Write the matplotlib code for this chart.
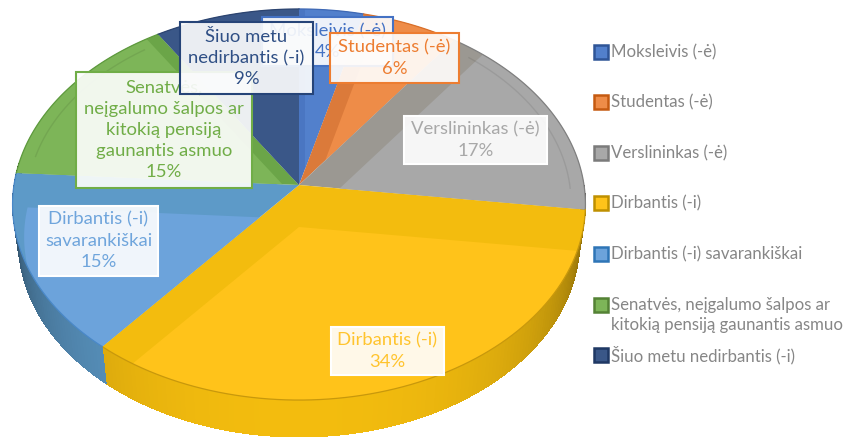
import numpy as np
import matplotlib
matplotlib.use('Agg')
import matplotlib.pyplot as plt
from matplotlib.patches import Polygon, Rectangle
import matplotlib.patheffects as pe

plt.rcParams['font.family'] = ['Lato', 'DejaVu Sans']

categories = ['Moksleivis (-ė)', 'Studentas (-ė)', 'Verslininkas (-ė)', 'Dirbantis (-i)',
              'Dirbantis (-i) savarankiškai',
              'Senatvės, neįgalumo šalpos ar kitokią pensiją gaunantis asmuo',
              'Šiuo metu nedirbantis (-i)']
values = [4, 6, 17, 34, 15, 15, 9]

legend_labels = ['Moksleivis (-ė)', 'Studentas (-ė)', 'Verslininkas (-ė)', 'Dirbantis (-i)',
                 'Dirbantis (-i) savarankiškai',
                 'Senatvės, neįgalumo šalpos ar\nkitokią pensiją gaunantis asmuo',
                 'Šiuo metu nedirbantis (-i)']
box_labels = ['Moksleivis (-ė)\n4%', 'Studentas (-ė)\n6%', 'Verslininkas (-ė)\n17%', 'Dirbantis (-i)\n34%',
              'Dirbantis (-i)\nsavarankiškai\n15%',
              'Senatvės,\nneįgalumo šalpos ar\nkitokią pensiją\ngaunantis asmuo\n15%',
              'Šiuo metu\nnedirbantis (-i)\n9%']

face_colors = ['#5280CC', '#EE8C48', '#A8A8A8', '#FFC31A', '#6CA3DB', '#7DB558', '#3A5788']
band_colors = ['#4A76C2', '#DB7A3A', '#9B9892', '#F3BC0E', '#5D9AC8', '#6BA548', '#3A5788']
rim_colors = ['#3F69B5', '#D9702A', '#808080', '#C8980C', '#4A88C8', '#5E9A3E', '#2C4470']
text_colors = ['#4472C4', '#ED7D31', '#A8A8A8', '#FFC42E', '#6FA5DC', '#70AD47', '#2F4F85']
border_colors = ['#4472C4', '#ED7D31', None, None, None, '#70AD47', '#264478']
legend_dark = ['#2F5597', '#C55A11', '#7B7B7B', '#BF9000', '#2E75B6', '#548235', '#1F3864']

# pixel boxes of the data labels: left, top, right, bottom
boxes = [(262, 17, 393, 66), (330, 33, 459, 83), (404, 116, 547, 164), (331, 327, 444, 375),
         (39, 206, 158, 276), (76, 72, 252, 188), (180, 22, 313, 94)]
# shift and arc radius of the lighter inner face of each slice
bevel = [(6, -16), (26, -24), (40, 4), (0, 42), (0, 34), (-16, 0), (0, 0)]
inner_r = [1.25, 1.25, 1.25, 1.25, 0.96, 1.25, 1.25]
legend_y = [52, 102, 153, 203, 254, 305, 355]

CX, CY, A, B, K = 299, 185, 285, 193.6, 0.0998
DEPTH = 37


def project(theta, r=1.0):
    u = r * np.sin(theta)
    v = r * np.cos(theta)
    w = 1 + K * v
    return CX + A * u / w, CY - B * v / w


def lower(x, y):
    return CX + (x - CX) * 0.98, y + DEPTH


def shade(theta):
    # side wall is darker toward both ends, lightest near the front
    t = (theta - np.pi) / (np.pi / 2)
    return np.clip(1 - 0.55 * np.abs(t) ** 2.2, 0.4, 1.0)


fig = plt.figure(figsize=(8.47, 4.37), dpi=100)
ax = fig.add_axes([0, 0, 1, 1])
ax.set_xlim(0, 847)
ax.set_ylim(437, 0)
ax.axis('off')

edges = np.cumsum([0] + values) / sum(values) * 2 * np.pi

# side wall
for i in range(len(values)):
    start, end = edges[i], edges[i + 1]
    lo, hi = max(start, np.pi / 2), min(end, 3 * np.pi / 2 + 0.12)
    if hi <= lo:
        continue
    ts = np.linspace(lo, hi, int((hi - lo) * 60) + 2)
    base = np.array(matplotlib.colors.to_rgb(band_colors[i]))
    for t0, t1 in zip(ts[:-1], ts[1:]):
        x0, y0 = project(t0)
        x1, y1 = project(t1)
        lx0, ly0 = lower(x0, y0)
        lx1, ly1 = lower(x1, y1)
        ax.add_patch(Polygon([(x0, y0), (x1, y1), (lx1, ly1), (lx0, ly0)],
                             facecolor=base * shade((t0 + t1) / 2), edgecolor='none', zorder=1, antialiased=False))

# top faces
for i in range(len(values)):
    ts = np.linspace(edges[i], edges[i + 1], 80)
    xs, ys = project(ts)
    pts = np.vstack([[CX, CY], np.column_stack([xs, ys])])
    outer = Polygon(pts, closed=True, facecolor=band_colors[i], edgecolor='none', zorder=2)
    ax.add_patch(outer)
    dx, dy = bevel[i]
    xs2, ys2 = project(ts, inner_r[i])
    pts2 = np.vstack([[CX + dx, CY + dy], np.column_stack([xs2 + dx, ys2 + dy])])
    inner = Polygon(pts2, closed=True, facecolor=face_colors[i], edgecolor='none', zorder=3)
    ax.add_patch(inner)
    inner.set_clip_path(outer)
    ax.plot(xs, ys, color=rim_colors[i], linewidth=0.9, zorder=4)
    # faint inner arcs on the grey and green slices
    if i in (2, 5):
        xa, ya = project(ts[8:72], 0.95)
        ax.plot(xa, ya, color='#000000', alpha=0.08, linewidth=1.0, zorder=4)

# data labels
for i in range(len(boxes)):
    left, top, right, bottom = boxes[i]
    edge = border_colors[i] if border_colors[i] else '#FFFFFF'
    rect = Rectangle((left, top), right - left, bottom - top, facecolor='white', alpha=0.9, edgecolor='none', zorder=10 + i)
    rect.set_path_effects([pe.SimplePatchShadow(offset=(1, -1), alpha=0.2, shadow_rgbFace=text_colors[i]), pe.Normal()])
    ax.add_patch(rect)
    ax.add_patch(Rectangle((left, top), right - left, bottom - top, facecolor='none', edgecolor=edge,
                           linewidth=1.5, zorder=10 + i))
    ax.text((left + right) / 2, (top + bottom) / 2, box_labels[i], ha='center', va='center', fontsize=13.3,
            color=text_colors[i], linespacing=1.4, zorder=10 + i)

# legend
for i, lab in enumerate(legend_labels):
    y = legend_y[i]
    ax.add_patch(Rectangle((594, y - 7), 14, 14, facecolor=face_colors[i], edgecolor=legend_dark[i], linewidth=1.8, zorder=5))
    lines = lab.split('\n')
    for j, line in enumerate(lines):
        ax.text(611, y + 20 * j, line, ha='left', va='center', fontsize=12.1, color='#868686')

fig.savefig('out.png', dpi=100)
